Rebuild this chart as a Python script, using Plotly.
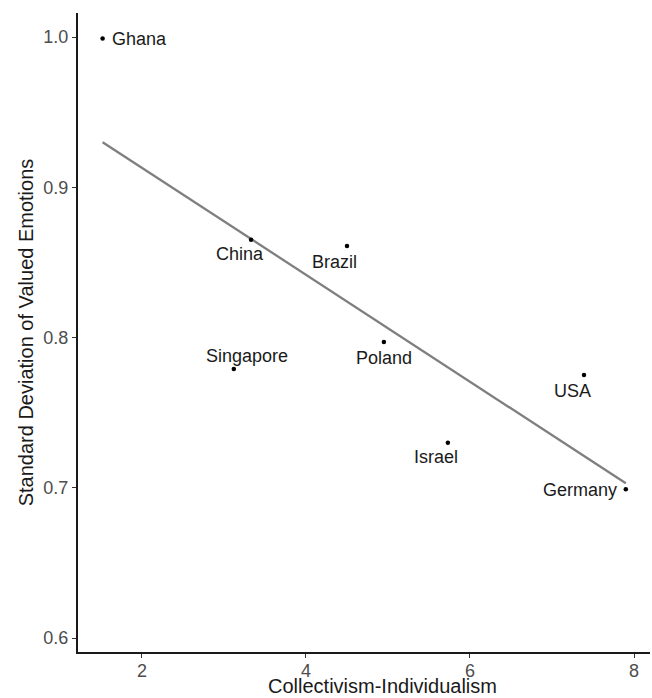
import numpy as np
import plotly.graph_objects as go

countries = ["Ghana", "China", "Brazil", "Singapore", "Poland", "USA", "Israel", "Germany"]
individualism = [1.52, 3.33, 4.50, 3.12, 4.95, 7.39, 5.73, 7.90]
sd_valued = [0.999, 0.865, 0.861, 0.779, 0.797, 0.775, 0.730, 0.699]

x_title = "Collectivism-Individualism"
y_title = "Standard Deviation of Valued Emotions"

# label offsets in pixels (x right, y up) and anchors
label_dx = [7, -11, -12, 13, 0, -11, -12, -7]
label_dy = [0, -14, -16, 13, -16, -16, -14, -1]
label_xanchor = ["left", "center", "center", "center", "center", "center", "center", "right"]

x_arr = np.array(individualism)
y_arr = np.array(sd_valued)
slope, intercept = np.polyfit(x_arr, y_arr, 1)
x_fit = np.linspace(x_arr.min(), x_arr.max(), 50)
y_fit = slope * x_fit + intercept

FONT = "Liberation Sans, Arial, sans-serif"

fig = go.Figure()
fig.add_trace(go.Scatter(x=x_fit, y=y_fit, mode="lines",
                         line=dict(color="#7f7f7f", width=2.3), hoverinfo="skip"))
fig.add_trace(go.Scatter(x=individualism, y=sd_valued, mode="markers",
                         marker=dict(color="black", size=4.5), text=countries))

for c, xv, yv, dx, dy, xa in zip(countries, individualism, sd_valued, label_dx, label_dy, label_xanchor):
    fig.add_annotation(x=xv, y=yv, text=c, showarrow=False, xshift=dx, yshift=dy,
                       xanchor=xa, yanchor="middle",
                       font=dict(family=FONT, size=18, color="#1a1a1a"))

# x-axis title placed as a paper annotation below the axis
fig.add_annotation(x=0.5315, y=0, xref="paper", yref="paper", text=x_title,
                   showarrow=False, xanchor="center", yanchor="middle", yshift=-34,
                   borderpad=0,
                   font=dict(family=FONT, size=20, color="#1a1a1a"))

fig.update_layout(
    width=652, height=698,
    margin=dict(l=78, r=2, t=13, b=46),
    paper_bgcolor="white", plot_bgcolor="white",
    showlegend=False,
    font=dict(family=FONT),
)
fig.update_xaxes(
    range=[1.22, 8.195], tickvals=[2, 4, 6, 8], ticktext=["2", "4", "6", "8"],
    automargin=False, ticklabelstandoff=-3,
    showgrid=False, zeroline=False, showline=True, linecolor="#1a1a1a", linewidth=2,
    ticks="outside", ticklen=4, tickwidth=1, tickcolor="#333333",
    tickfont=dict(size=18, color="#4d4d4d"),
)
fig.update_yaxes(
    range=[0.5907, 1.016], tickvals=[0.6, 0.7, 0.8, 0.9, 1.0],
    ticktext=["0.6", "0.7", "0.8", "0.9", "1.0"],
    automargin=False,
    showgrid=False, zeroline=False, showline=True, linecolor="#1a1a1a", linewidth=2,
    ticks="outside", ticklen=4, tickwidth=1, tickcolor="#333333",
    tickfont=dict(size=18, color="#4d4d4d"),
    title=dict(text=y_title, font=dict(size=20, color="#1a1a1a"), standoff=4),
)

fig.write_html("out.html", config={"displayModeBar": False},
               post_script="document.body.style.margin='0';document.body.style.overflow='hidden';")
